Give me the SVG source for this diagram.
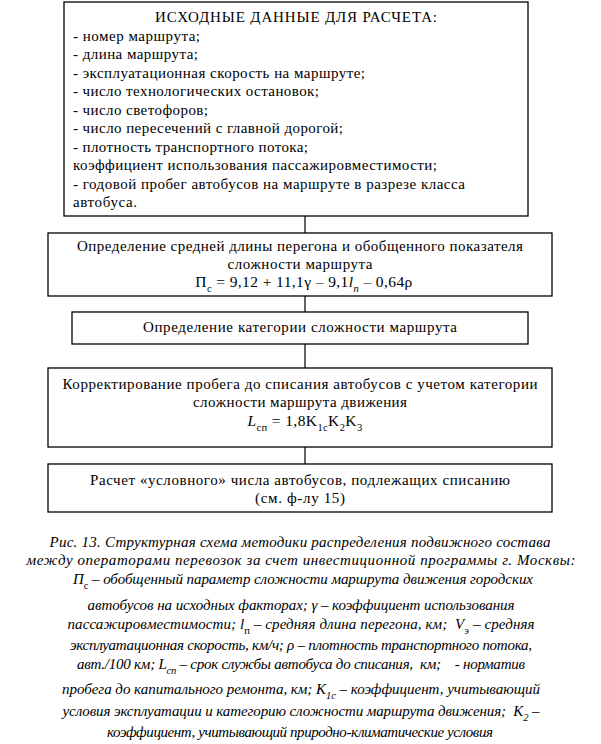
<svg xmlns="http://www.w3.org/2000/svg" width="601" height="744" viewBox="0 0 601 744">
<style>
.box{fill:#fff;stroke:#000;stroke-width:1.3}
.t{font-family:"Liberation Serif","Times New Roman",serif;font-size:15px;fill:#000}
.c{text-anchor:middle}
.f{font-size:15.5px;letter-spacing:0.4px}
.cap{font-family:"Liberation Serif","Times New Roman",serif;font-size:15px;font-style:italic;fill:#000;text-anchor:middle}
.sub{font-size:10.5px}
.i{font-style:italic}
.n{font-style:normal}
.ln{stroke:#000;stroke-width:1.2;fill:none}
</style>
<rect width="601" height="744" fill="#fff"/>
<g id="connectors">
<line class="ln" x1="305" y1="216" x2="305" y2="233"/>
<line class="ln" x1="305" y1="296" x2="305" y2="312"/>
<line class="ln" x1="305" y1="344" x2="305" y2="368"/>
<line class="ln" x1="305" y1="447" x2="305" y2="464"/>
</g>
<g id="node-input">
<rect class="box" x="64" y="2" width="464" height="214"/>
<text class="t c" x="296" y="22" textLength="282" lengthAdjust="spacing">ИСХОДНЫЕ ДАННЫЕ ДЛЯ РАСЧЕТА:</text>
<text class="t" x="73" y="41" textLength="127" lengthAdjust="spacing">- номер маршрута;</text>
<text class="t" x="73" y="59.4" textLength="125" lengthAdjust="spacing">- длина маршрута;</text>
<text class="t" x="73" y="77.9" textLength="292" lengthAdjust="spacing">- эксплуатационная скорость на маршруте;</text>
<text class="t" x="73" y="96.3" textLength="246" lengthAdjust="spacing">- число технологических остановок;</text>
<text class="t" x="73" y="114.8" textLength="135" lengthAdjust="spacing">- число светофоров;</text>
<text class="t" x="73" y="133.2" textLength="270" lengthAdjust="spacing">- число пересечений с главной дорогой;</text>
<text class="t" x="73" y="151.6" textLength="235" lengthAdjust="spacing">- плотность транспортного потока;</text>
<text class="t" x="73" y="170.1" textLength="364" lengthAdjust="spacing">коэффициент использования пассажировместимости;</text>
<text class="t" x="73" y="188.5" textLength="392" lengthAdjust="spacing">- годовой пробег автобусов на маршруте в разрезе класса</text>
<text class="t" x="73" y="207" textLength="64" lengthAdjust="spacing">автобуса.</text>
</g>
<g id="node-complexity">
<rect class="box" x="48" y="233" width="504" height="63"/>
<text class="t c" x="300" y="251" textLength="446" lengthAdjust="spacing">Определение средней длины перегона и обобщенного показателя</text>
<text class="t c" x="300" y="269" textLength="145" lengthAdjust="spacing">сложности маршрута</text>
<text class="t c f" x="304" y="287">П<tspan class="sub" dy="5">с</tspan><tspan dy="-5"> = 9,12 + 11,1γ – 9,1</tspan><tspan class="i">l</tspan><tspan class="sub i" dy="5">п</tspan><tspan dy="-5"> – 0,64ρ</tspan></text>
</g>
<g id="node-category">
<rect class="box" x="72" y="312" width="456" height="32"/>
<text class="t c" x="300" y="332" textLength="314" lengthAdjust="spacing">Определение категории сложности маршрута</text>
</g>
<g id="node-correction">
<rect class="box" x="48" y="368" width="504" height="79"/>
<text class="t c" x="300" y="389" textLength="475" lengthAdjust="spacing">Корректирование пробега до списания автобусов с учетом категории</text>
<text class="t c" x="300" y="407" textLength="214" lengthAdjust="spacing">сложности маршрута движения</text>
<text class="t c f" x="305" y="426"><tspan class="i">L</tspan><tspan class="sub" dy="5">сп</tspan><tspan dy="-5"> = 1,8K</tspan><tspan class="sub" dy="5">1c</tspan><tspan dy="-5">K</tspan><tspan class="sub" dy="5">2</tspan><tspan dy="-5">K</tspan><tspan class="sub" dy="5">3</tspan></text>
</g>
<g id="node-count">
<rect class="box" x="48" y="464" width="504" height="48"/>
<text class="t c" x="300" y="485" textLength="420" lengthAdjust="spacing">Расчет «условного» числа автобусов, подлежащих списанию</text>
<text class="t c" x="300" y="503" textLength="90" lengthAdjust="spacing">(см. ф-лу 15)</text>
</g>
<g id="caption">
<text class="cap" x="300" y="547" textLength="501" lengthAdjust="spacing">Рис. 13. Структурная схема методики распределения подвижного состава</text>
<text class="cap" x="301" y="565" textLength="549" lengthAdjust="spacing">между операторами перевозок за счет инвестиционной программы г. Москвы:</text>
<text class="cap" x="303" y="584" textLength="460" lengthAdjust="spacing">П<tspan class="sub n" dy="5">с</tspan><tspan dy="-5"> – обобщенный параметр сложности маршрута движения городских</tspan></text>
<text class="cap" x="301" y="610" textLength="427" lengthAdjust="spacing">автобусов на исходных факторах; γ – коэффициент использования</text>
<text class="cap" x="301" y="629" textLength="467" lengthAdjust="spacing" xml:space="preserve">пассажировместимости; l<tspan class="sub n" dy="5">п</tspan><tspan dy="-5"> – средняя длина перегона, км;  V</tspan><tspan class="sub" dy="5">э</tspan><tspan dy="-5"> – средняя</tspan></text>
<text class="cap" x="301" y="650" textLength="462" lengthAdjust="spacing">эксплуатационная скорость, км/ч; ρ – плотность транспортного потока,</text>
<text class="cap" x="301" y="669" textLength="448" lengthAdjust="spacing" xml:space="preserve">авт./100 км; L<tspan class="sub" dy="5">сп</tspan><tspan dy="-5"> – срок службы автобуса до списания,  км;    - норматив</tspan></text>
<text class="cap" x="301" y="694" textLength="478" lengthAdjust="spacing">пробега до капитального ремонта, км; K<tspan class="sub" dy="5">1c</tspan><tspan dy="-5"> – коэффициент, учитывающий</tspan></text>
<text class="cap" x="301" y="716" textLength="477" lengthAdjust="spacing" xml:space="preserve">условия эксплуатации и категорию сложности маршрута движения;  K<tspan class="sub" dy="5">2</tspan><tspan dy="-5"> –</tspan></text>
<text class="cap" x="300" y="737" textLength="386" lengthAdjust="spacing">коэффициент, учитывающий природно-климатические условия</text>
</g>
</svg>
